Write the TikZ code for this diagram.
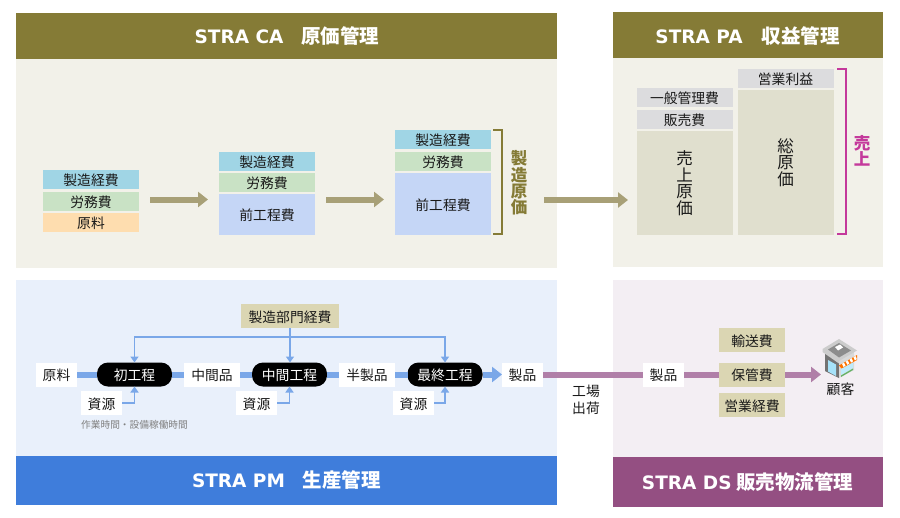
\documentclass[tikz,border=0pt]{standalone}
\usepackage{fontspec}
\usepackage{tikz}
\usetikzlibrary{arrows.meta}
\setmainfont{Noto Sans CJK JP}
\newfontfamily\latinhead{DejaVu Sans}
\definecolor{olive}{HTML}{857B36}
\definecolor{arrowolive}{HTML}{A8A077}
\definecolor{panelolive}{HTML}{F2F1E9}
\definecolor{panelblue}{HTML}{E9F0FB}
\definecolor{headblue}{HTML}{3F7DDB}
\definecolor{barblue}{HTML}{7AA7E8}
\definecolor{panelpurple}{HTML}{F3EEF3}
\definecolor{headpurple}{HTML}{944F82}
\definecolor{barpurple}{HTML}{B07FA8}
\definecolor{costblue}{HTML}{A0D5E5}
\definecolor{costgreen}{HTML}{C9E2C5}
\definecolor{costorange}{HTML}{FEDDAF}
\definecolor{costperi}{HTML}{C5D6F6}
\definecolor{costgrey}{HTML}{DCDCDE}
\definecolor{costsand}{HTML}{E0DFCE}
\definecolor{tan}{HTML}{DBD6B3}
\definecolor{salesred}{HTML}{C4399B}
\tikzstyle{head} = [inner sep=0pt,text=white,font=\fontsize{19.5}{20}\selectfont\bfseries]
\tikzstyle{cost} = [inner sep=0pt,outer sep=0pt,minimum width=96pt,text=black!90,text height=13pt,text depth=0.6pt,font=\fontsize{13.8}{15}\selectfont]
\tikzstyle{tall} = [inner sep=0pt,outer sep=0pt,minimum width=96pt,text=black!90,font=\fontsize{16.5}{16.5}\selectfont,align=center]
\tikzstyle{flow} = [inner sep=0pt,outer sep=0pt,minimum height=24pt,fill=white,text=black!90,text height=13pt,text depth=0.6pt,font=\fontsize{13.8}{15}\selectfont]
\tikzstyle{pill} = [flow,fill=black,text=white,rounded corners=11pt,minimum width=75pt]
\tikzstyle{fee} = [flow,fill=tan]
\tikzstyle{sidetext} = [inner sep=0pt,font=\fontsize{16.5}{16.3}\selectfont\bfseries,align=center]
\tikzstyle{bigarrow} = [line width=6pt,arrowolive,-{Triangle[length=10pt,width=15pt]}]
\tikzstyle{bar} = [line width=6pt,barblue]
\tikzstyle{feedline} = [line width=1.5pt,draw=barblue,-{Triangle[length=6pt,width=8pt,fill=barblue]}]
\begin{document}
\begin{tikzpicture}[x=1pt,y=-1pt]
\useasboundingbox (0,0) rectangle (900,517);

% panels
\fill[panelolive] (16,59) rectangle (557,268);
\fill[olive] (16,13) rectangle (557,59);
\fill[panelolive] (613,58) rectangle (883,267);
\fill[olive] (613,12) rectangle (883,58);
\fill[panelblue] (16,280) rectangle (557,456);
\fill[headblue] (16,456) rectangle (557,505);
\fill[panelpurple] (613,280) rectangle (883,457);
\fill[headpurple] (613,457) rectangle (883,507);

\node[head] (headca) at (287,36) {{\fontsize{18.5}{20}\selectfont\latinhead STRA CA}\hspace{18pt}原価管理};
\node[head] (headpa) at (747.5,36) {{\fontsize{18.5}{20}\selectfont\latinhead STRA PA}\hspace{19pt}収益管理};
\node[head] (headpm) at (286.5,480) {{\fontsize{18.5}{20}\selectfont\latinhead STRA PM}\hspace{18pt}生産管理};
\node[head] (headds) at (747.5,482) {{\fontsize{18.5}{20}\selectfont\latinhead STRA DS} 販売物流管理};

% cost stacks
\foreach \x/\y/\n in {91/179.5/a,267/161.5/b,443/139.5/c}
{
 \node[cost,fill=costblue,minimum height=19pt] (keihi\n) at (\x,\y) {製造経費};
}
\foreach \x/\y/\n in {91/201/a,267/182.5/b,443/161.5/c}
{
 \node[cost,fill=costgreen,minimum height=19pt] (romu\n) at (\x,\y) {労務費};
}
\node[cost,fill=costorange,minimum height=19pt] (genryo) at (91,222.5) {原料};
\node[cost,fill=costperi,minimum height=41pt] (maeb) at (267,214.5) {前工程費};
\node[cost,fill=costperi,minimum height=62pt] (maec) at (443,204) {前工程費};

\draw[line width=2pt,olive] (493,130) -- (501.5,130) -- (501.5,234) -- (493,234);
\node[sidetext,text=olive] (seizo) at (519,183) {製\\造\\原\\価};

\coordinate (a1s) at (150,199.5);
\coordinate (a1e) at (208,199.5);
\coordinate (a2s) at (326,199.5);
\coordinate (a2e) at (384,199.5);
\coordinate (a3s) at (544,200);
\coordinate (a3e) at (628,200);
\draw[bigarrow] (a1s) -- (a1e);
\draw[bigarrow] (a2s) -- (a2e);
\draw[bigarrow] (a3s) -- (a3e);

% revenue
\node[cost,fill=costgrey,minimum height=19pt] (ippan) at (684.5,97.5) {一般管理費};
\node[cost,fill=costgrey,minimum height=19pt] (hanbai) at (684.5,119) {販売費};
\node[tall,fill=costsand,minimum height=104pt] (uriage) at (684.5,183) {売\\上\\原\\価};
\node[cost,fill=costgrey,minimum height=19pt] (eigyo) at (785.5,78) {営業利益};
\node[tall,fill=costsand,minimum height=145pt] (sogen) at (785.5,162.5) {総\\原\\価};
\draw[line width=2pt,salesred] (837,68.5) -- (845.5,68.5) -- (845.5,233.5) -- (837,233.5);
\node[sidetext,text=salesred] (sales) at (862,151) {売\\上};

% production
\node[flow,minimum width=41pt] (genryop) at (56.5,374.5) {原料};
\node[pill] (sho) at (134.5,374.5) {初工程};
\node[flow,minimum width=56pt] (chukan) at (212,374.5) {中間品};
\node[pill] (naka) at (289.5,374.5) {中間工程};
\node[flow,minimum width=56pt] (han) at (367,374.5) {半製品};
\node[pill] (sai) at (445,374.5) {最終工程};
\node[flow,minimum width=41pt] (seihin) at (522.5,374.5) {製品};
\node[fee,minimum width=98pt] (bumon) at (290,316) {製造部門経費};
\node[flow,minimum width=41pt] (sigen1) at (101.5,403) {資源};
\node[flow,minimum width=41pt] (sigen2) at (256.5,403) {資源};
\node[flow,minimum width=41pt] (sigen3) at (413.5,403) {資源};
\node[inner sep=0pt,text=black!50,font=\fontsize{9.7}{11}\selectfont] (sagyo) at (134.5,424.5) {作業時間・設備稼働時間};

\draw[bar] (genryop) -- (sho);
\draw[bar] (sho) -- (chukan);
\draw[bar] (chukan) -- (naka);
\draw[bar] (naka) -- (han);
\draw[bar] (han) -- (sai);
\draw[line width=6pt,barblue,-{Triangle[length=10pt,width=15pt]}] (sai) -- (seihin);

\coordinate (split) at (bumon.south |- 0,337);
\draw[feedline] (bumon.south) -- (naka.north -| bumon.south);
\draw[feedline] (split) -| (sho.north);
\draw[feedline] (split) -| (sai.north);
\draw[feedline] (sigen1.east) -| (sho.south);
\draw[feedline] (sigen2.east) -| (naka.south);
\draw[feedline] (sigen3.east) -| (sai.south);

% distribution
\node[inner sep=0pt,align=center,text=black!90,font=\fontsize{13.8}{17}\selectfont] (shukka) at (586,399.5) {工場\\出荷};
\node[flow,minimum width=41pt] (seihin2) at (663.5,374.5) {製品};
\node[fee,minimum width=66pt] (yuso) at (752,340) {輸送費};
\node[fee,minimum width=66pt] (hokan) at (752,374.5) {保管費};
\node[fee,minimum width=66pt] (keihi) at (752,405) {営業経費};
\node[inner sep=0pt,text=black!90,font=\fontsize{13.8}{15}\selectfont] (kokyaku) at (840.5,389.5) {顧客};
\coordinate (shop) at (821,374.5);

\draw[line width=6pt,barpurple] (seihin) -- (seihin2);
\draw[line width=6pt,barpurple] (seihin2) -- (hokan);
\draw[line width=6pt,barpurple,-{Triangle[length=10pt,width=15pt]}] (hokan) -- (shop);

% shop icon
\fill[black!55] (825,351) -- (839,360) -- (839,378) -- (825,371) -- cycle;
\fill[black!15] (839,360) -- (854,351) -- (854,370) -- (839,378) -- cycle;
\fill[cyan!35] (828,360) -- (836,364.5) -- (836,376) -- (828,371.5) -- cycle;
\fill[black!20] (822.5,349) -- (839,339) -- (857,350.5) -- (839,361) -- (839,363.5) -- (822.5,352) -- cycle;
\fill[black!45] (828,349.5) -- (839,343) -- (851,350.5) -- (839,357.5) -- cycle;
\fill[white!85] (835,347) -- (840,344.5) -- (843,347.5) -- (838,350.5) -- cycle;
\fill[cyan!25] (841,368) -- (853,361) -- (853,368) -- (841,375) -- cycle;
\fill[green!50!black!60] (841,375.5) -- (853,368.5) -- (853,370) -- (841,377) -- cycle;
\fill[orange!90!red] (839,365.5) -- (857,355) -- (857,360) -- (841.5,368.5) -- cycle;
\foreach \x in {0,1,2,3}
{
 \fill[white] (842+3.8*\x,363.8-2.2*\x) -- (844+3.8*\x,362.6-2.2*\x) -- (845.5+3.8*\x,365.7-2.2*\x) -- (843.5+3.8*\x,367-2.2*\x) -- cycle;
}
\end{tikzpicture}
\end{document}
